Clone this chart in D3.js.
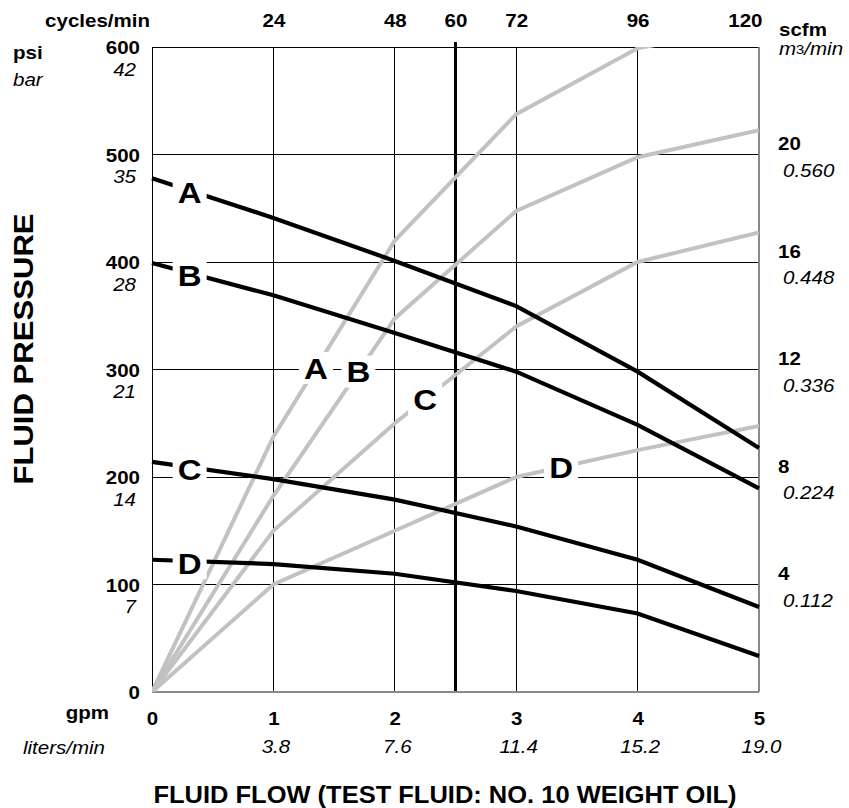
<!DOCTYPE html>
<html><head><meta charset="utf-8">
<script src="https://cdn.jsdelivr.net/npm/d3@7"></script>
<style>
body{margin:0;background:#fff}
svg{display:block}
text{font-family:"Liberation Sans",Arial,Helvetica,sans-serif;fill:#000}
</style>
</head><body>
<svg id="c" width="849" height="808"></svg>
<script>
(function () {
// ---- data ----
const gpm = [0, 1, 2, 3, 4, 5];
const pressureA = [478, 441, 401, 359, 298, 227];
const pressureB = [399, 369, 334, 298, 248.5, 189.5];
const pressureC = [214, 198, 179, 154, 123, 79];
const pressureD = [123, 119, 110, 94, 73, 33.5];
const airA = [0, 9.5, 16.8, 21.5, 23.95, 24.8];
const airB = [0, 7.3, 13.9, 17.9, 19.9, 20.9];
const airC = [0, 6, 10, 13.6, 16, 17.1];
const airD = [0, 4, 6, 8, 9, 9.9];
const seriesNames = ["A", "B", "C", "D"];
const pressureLabelAt = [0.31, 0.31, 0.31, 0.31];
const airLabelAt = [1.35, 1.70, 2.25, 3.37];

const psiTicks = [0, 100, 200, 300, 400, 500, 600];
const barTicks = [100, 200, 300, 400, 500, 600];
const barLabels = ["7", "14", "21", "28", "35", "42"];
const gpmTicks = [0, 1, 2, 3, 4, 5];
const literTicks = [1, 2, 3, 4, 5];
const literLabels = ["3.8", "7.6", "11.4", "15.2", "19.0"];
const cycleTicks = [24, 48, 60, 72, 96, 120];
const scfmTicks = [4, 8, 12, 16, 20];
const m3Labels = ["0.112", "0.224", "0.336", "0.448", "0.560"];
const gridX = [1, 2, 3, 4];
const gridY = [100, 200, 300, 400, 500];
const markCycle = 60;

// ---- layout ----
const L = 152, R = 759, T = 47, B = 692;
const SX = 1.14;
const svg = d3.select("#c");
const x = d3.scaleLinear().domain([0, 5]).range([L, R]);
const xCyc = d3.scaleLinear().domain([0, 120]).range([L, R]);
const y = d3.scaleLinear().domain([0, 600]).range([B, T]);
const yAir = d3.scaleLinear().domain([0, 24]).range([B, T]);

svg.append("defs").append("clipPath").attr("id", "plot")
  .append("rect").attr("x", L).attr("y", T).attr("width", R - L).attr("height", B - T);

// grid
const grid = svg.append("g").attr("shape-rendering", "crispEdges");
grid.selectAll(".gx").data(gridX).join("line")
  .attr("x1", d => x(d)).attr("x2", d => x(d)).attr("y1", T).attr("y2", B)
  .attr("stroke", "#000").attr("stroke-width", 1);
grid.selectAll(".gy").data(gridY).join("line")
  .attr("y1", d => y(d)).attr("y2", d => y(d)).attr("x1", L).attr("x2", R)
  .attr("stroke", "#000").attr("stroke-width", 1);
grid.append("line").attr("x1", xCyc(markCycle)).attr("x2", xCyc(markCycle))
  .attr("y1", T - 5).attr("y2", B).attr("stroke", "#000").attr("stroke-width", 2.5);

// frame
grid.append("line").attr("x1", L).attr("x2", L).attr("y1", T).attr("y2", B).attr("stroke", "#000");
grid.append("line").attr("x1", L).attr("x2", R).attr("y1", T).attr("y2", T).attr("stroke", "#000");
grid.append("line").attr("x1", R).attr("x2", R).attr("y1", T).attr("y2", B).attr("stroke", "#8a8a8a").attr("stroke-width", 1.6);
grid.append("line").attr("x1", L).attr("x2", R).attr("y1", B).attr("y2", B).attr("stroke", "#8a8a8a").attr("stroke-width", 1.6);

// lines
const airSeries = [airA, airB, airC, airD];
const pressureSeries = [pressureA, pressureB, pressureC, pressureD];
const airLine = d3.line().x((d, i) => x(gpm[i])).y(d => yAir(d));
const pLine = d3.line().x((d, i) => x(gpm[i])).y(d => y(d));

svg.append("g").attr("clip-path", "url(#plot)")
  .selectAll("path").data(airSeries).join("path")
  .attr("d", airLine).attr("fill", "none").attr("stroke", "#c2c2c2").attr("stroke-width", 4);
svg.append("g")
  .selectAll("path").data(pressureSeries).join("path")
  .attr("d", pLine).attr("fill", "none").attr("stroke", "#000").attr("stroke-width", 4.2);

// series labels
function valueAt(arr, g) {
  const i = Math.min(Math.floor(g), gpm.length - 2);
  return d3.interpolateNumber(arr[i], arr[i + 1])(g - gpm[i]);
}
function seriesLabel(cx, cy, str) {
  svg.append("rect").attr("x", cx - 17).attr("y", cy - 16).attr("width", 34).attr("height", 32).attr("fill", "#fff");
  svg.append("text").attr("transform", `translate(${cx},${cy}) scale(1.1,1)`)
    .attr("text-anchor", "middle").attr("dy", "0.36em")
    .attr("font-size", 30).attr("font-weight", "bold").text(str);
}
seriesNames.forEach((n, i) => {
  const g = airLabelAt[i];
  seriesLabel(x(g), yAir(valueAt(airSeries[i], g)), n);
});
seriesNames.forEach((n, i) => {
  const g = pressureLabelAt[i];
  seriesLabel(x(g), y(valueAt(pressureSeries[i], g)) + 2, n);
});

// axes
function styleAxis(g, {size = 18, weight = "bold", style = "normal", tx = 0, ty = 0, anchor = null}) {
  g.select(".domain").remove();
  g.selectAll(".tick line").remove();
  g.attr("font-family", null).attr("font-size", null);
  const t = g.selectAll(".tick text")
    .attr("font-size", size).attr("font-weight", weight).attr("font-style", style)
    .attr("dy", null).attr("x", tx / SX).attr("y", ty)
    .attr("transform", `scale(${SX},1)`);
  if (anchor) t.attr("text-anchor", anchor);
  return t;
}
const axTop = svg.append("g").attr("transform", `translate(0,${T})`)
  .call(d3.axisTop(xCyc).tickValues(cycleTicks).tickSize(0));
styleAxis(axTop, {ty: -20.5});
axTop.selectAll(".tick text").filter(d => d === 120).attr("text-anchor", "end").attr("x", 3 / SX);

const axBot = svg.append("g").attr("transform", `translate(0,${B})`)
  .call(d3.axisBottom(x).tickValues(gpmTicks).tickFormat(d3.format("d")).tickSize(0));
styleAxis(axBot, {ty: 33});
const axLit = svg.append("g").attr("transform", `translate(0,${B})`)
  .call(d3.axisBottom(x).tickValues(literTicks).tickFormat((d, i) => literLabels[i]).tickSize(0));
styleAxis(axLit, {ty: 61.5, weight: "normal", style: "italic", tx: 2});

const axLeft = svg.append("g").attr("transform", `translate(${L},0)`)
  .call(d3.axisLeft(y).tickValues(psiTicks).tickSize(0));
styleAxis(axLeft, {tx: -12, ty: 6.5, anchor: "end"});
const axBar = svg.append("g").attr("transform", `translate(${L},0)`)
  .call(d3.axisLeft(y).tickValues(barTicks).tickFormat((d, i) => barLabels[i]).tickSize(0));
styleAxis(axBar, {tx: -16, ty: 28.5, weight: "normal", style: "italic", anchor: "end"});

const axRight = svg.append("g").attr("transform", `translate(${R},0)`)
  .call(d3.axisRight(yAir).tickValues(scfmTicks).tickSize(0));
styleAxis(axRight, {tx: 19, ty: -5, anchor: "start"});
const axM3 = svg.append("g").attr("transform", `translate(${R},0)`)
  .call(d3.axisRight(yAir).tickValues(scfmTicks).tickFormat((d, i) => m3Labels[i]).tickSize(0));
styleAxis(axM3, {tx: 24, ty: 22, weight: "normal", style: "italic", anchor: "start"});

// free text
function label(px, py, str, {size = 18, weight = "bold", style = "normal", anchor = "start", sx = SX, rotate = 0} = {}) {
  return svg.append("text")
    .attr("transform", `translate(${px},${py}) rotate(${rotate}) scale(${sx},1)`)
    .attr("text-anchor", anchor).attr("font-size", size)
    .attr("font-weight", weight).attr("font-style", style).text(str);
}
label(150, 26.5, "cycles/min", {anchor: "end"});
label(13, 59, "psi");
label(13, 86, "bar", {weight: "normal", style: "italic"});
label(109, 719, "gpm", {anchor: "end"});
label(105, 753.5, "liters/min", {weight: "normal", style: "italic", anchor: "end"});
label(779, 36, "scfm");
const m3t = label(779, 55, "m", {weight: "normal", style: "italic"});
m3t.append("tspan").attr("font-size", 13).attr("font-style", "normal").attr("dy", -1).text("3");
m3t.append("tspan").attr("dy", 1).text("/min");
label(33, 349, "FLUID PRESSURE", {size: 28, anchor: "middle", rotate: -90, sx: 1.11});
label(445, 803, "FLUID FLOW (TEST FLUID: NO. 10 WEIGHT OIL)", {size: 23.5, anchor: "middle", sx: 1.085});
})();
</script>
</body></html>
